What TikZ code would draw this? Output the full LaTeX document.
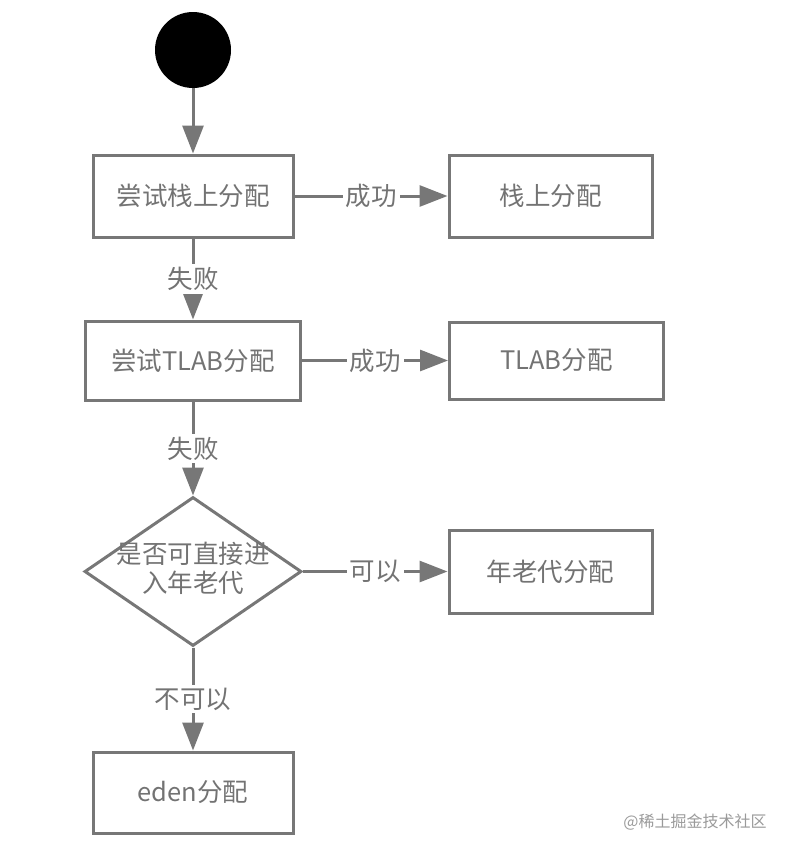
\documentclass[tikz,border=0pt]{standalone}
\usepackage{fontspec}
\usepackage{xcolor}
\usepackage{tikz}
\usetikzlibrary{shapes.geometric, arrows.meta}
\newfontfamily\cjk{Noto Sans CJK SC}
\definecolor{ln}{HTML}{777777}
\definecolor{tx}{HTML}{737373}
\definecolor{wm}{HTML}{9A9A9A}
\tikzset{bx/.style={draw=ln, line width=3pt, text=tx, inner sep=0pt},
  lb/.style={fill=white, text=tx, inner sep=3pt},
  ar/.style={->, draw=ln, fill=ln, line width=3pt}}

\begin{document}
\begin{tikzpicture}[x=1pt, y=-1pt, font=\cjk\fontsize{25.5}{28}\selectfont, >={Triangle[length=28pt, width=21pt]}]
  \useasboundingbox (0,0) rectangle (794,854);
  % Nodes
  \node[circle, fill=black, minimum size=76pt, inner sep=0pt] (start) at (193,50) {};

  \node[bx, minimum width=200pt, minimum height=82pt] (stacktry) at (193,196) {尝试栈上分配};
  \node[bx, minimum width=203pt, minimum height=82pt] (stack) at (550.5,196) {栈上分配};

  \node[bx, minimum width=215pt, minimum height=79pt] (tlabtry) at (193,360.5) {尝试TLAB分配};
  \node[bx, minimum width=214pt, minimum height=77pt] (tlab) at (556.5,360.5) {TLAB分配};

  \node[bx, diamond, minimum width=217pt, minimum height=149pt] (judge) at (193,571.5)
    {\makebox[0pt]{\begin{tabular}{@{}c@{}}是否可直接进\\入年老代\end{tabular}}};
  \node[bx, minimum width=203pt, minimum height=83pt] (old) at (550.5,571.5) {年老代分配};

  \node[bx, minimum width=200pt, minimum height=81pt] (eden) at (193,792.5) {eden分配};

  \node[text=wm, font=\cjk\fontsize{16}{18}\selectfont] (mark) at (695,822) {@稀土掘金技术社区};

  % Main flow
  \draw[ar] (start) -- (stacktry);
  \draw[ar] (stacktry) -- node[lb] {失败} (tlabtry);
  \draw[ar] (tlabtry) -- node[lb] {失败} (judge);
  \draw[ar] (judge) -- node[lb] {不可以} (eden);

  % Side branches
  \draw[ar] (stacktry) -- node[lb] {成功} (stack);
  \draw[ar] (tlabtry) -- node[lb] {成功} (tlab);
  \draw[ar] (judge) -- node[lb] {可以} (old);
\end{tikzpicture}
\end{document}
